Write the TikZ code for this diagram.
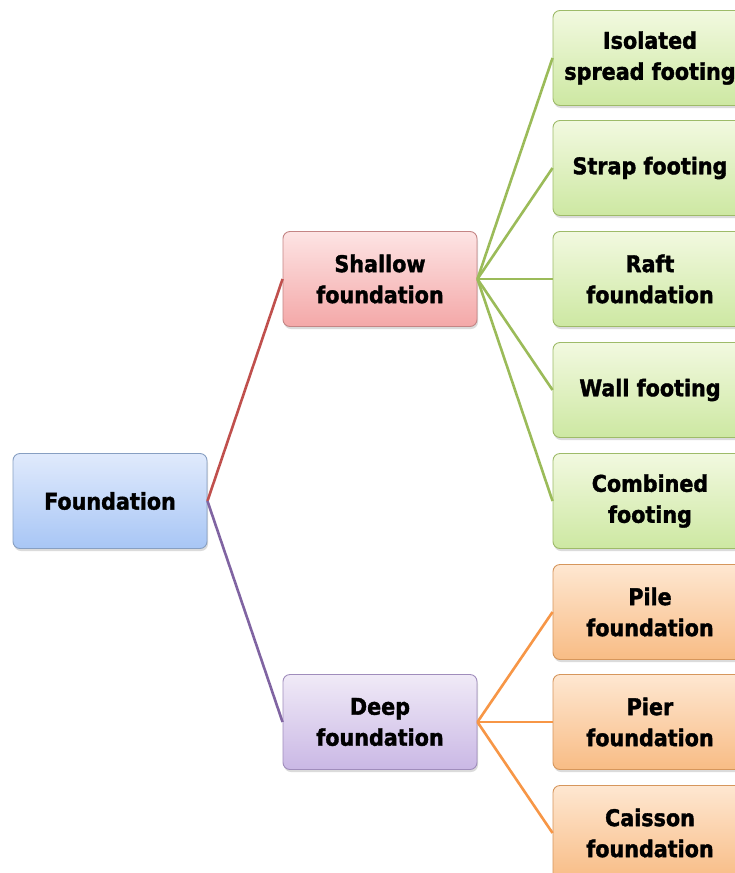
\documentclass[tikz,border=0pt]{standalone}
\usepackage{fontspec}
\newfontfamily\lblfont{DejaVu Sans Condensed Bold}[FakeBold=1.6]
\usetikzlibrary{shadows}

\definecolor{lnred}{HTML}{C0504D}
\definecolor{lnpurple}{HTML}{8064A2}
\definecolor{lngreen}{HTML}{9BBB59}
\definecolor{lnorange}{HTML}{F79646}
\definecolor{bluetop}{HTML}{E0EAFC}
\definecolor{bluebot}{HTML}{A8C6F5}
\definecolor{blueedge}{HTML}{879FC2}
\definecolor{pinktop}{HTML}{FDE4E4}
\definecolor{pinkbot}{HTML}{F4A8A8}
\definecolor{pinkedge}{HTML}{C48585}
\definecolor{lavtop}{HTML}{F0EAF7}
\definecolor{lavbot}{HTML}{CAB8E5}
\definecolor{lavedge}{HTML}{A08DBC}
\definecolor{greentop}{HTML}{F2F9E0}
\definecolor{greenbot}{HTML}{CDE8A2}
\definecolor{greenedge}{HTML}{9EBB69}
\definecolor{orangetop}{HTML}{FEE7D1}
\definecolor{orangebot}{HTML}{F8BC85}
\definecolor{orangeedge}{HTML}{D6965C}

\tikzset{
  box/.style={rounded corners=7pt, minimum width=194pt, minimum height=95pt,
    inner sep=0pt, align=center, line width=0.9pt,
    font=\lblfont\fontsize{23}{31}\selectfont,
    drop shadow={opacity=0.28, shadow xshift=1pt, shadow yshift=-2.5pt}},
  bluebox/.style={box, top color=bluetop, bottom color=bluebot, draw=blueedge},
  pinkbox/.style={box, top color=pinktop, bottom color=pinkbot, draw=pinkedge},
  lavbox/.style={box, top color=lavtop, bottom color=lavbot, draw=lavedge},
  greenbox/.style={box, top color=greentop, bottom color=greenbot, draw=greenedge},
  orangebox/.style={box, top color=orangetop, bottom color=orangebot, draw=orangeedge},
  link/.style={line width=2.6pt},
}

\begin{document}
\begin{tikzpicture}[x=1pt,y=-1pt]
  \clip (0,0) rectangle (735,873);
  \fill[white] (0,0) rectangle (735,873);

  % root and the two main branches
  \node[bluebox]   (found)   at (110,501) {Foundation};
  \node[pinkbox]   (shallow) at (380,279) {Shallow\\foundation};
  \node[lavbox]    (deep)    at (380,722) {Deep\\foundation};

  % shallow foundation types
  \node[greenbox]  (iso)     at (650,58)  {Isolated\\spread footing};
  \node[greenbox]  (strap)   at (650,168) {Strap footing};
  \node[greenbox]  (raft)    at (650,279) {Raft\\foundation};
  \node[greenbox]  (wall)    at (650,390) {Wall footing};
  \node[greenbox]  (comb)    at (650,501) {Combined\\footing};

  % deep foundation types
  \node[orangebox] (pile)    at (650,612) {Pile\\foundation};
  \node[orangebox] (pier)    at (650,722) {Pier\\foundation};
  \node[orangebox] (caisson) at (650,833) {Caisson\\foundation};

  % connectors
  \draw[link, lnred]    (found.east) -- (shallow.west);
  \draw[link, lnpurple] (found.east) -- (deep.west);
  \foreach \t in {iso,strap,raft,wall,comb}
    \draw[link, lngreen] (shallow.east) -- (\t.west);
  \foreach \t in {pile,pier,caisson}
    \draw[link, lnorange] (deep.east) -- (\t.west);
\end{tikzpicture}
\end{document}
